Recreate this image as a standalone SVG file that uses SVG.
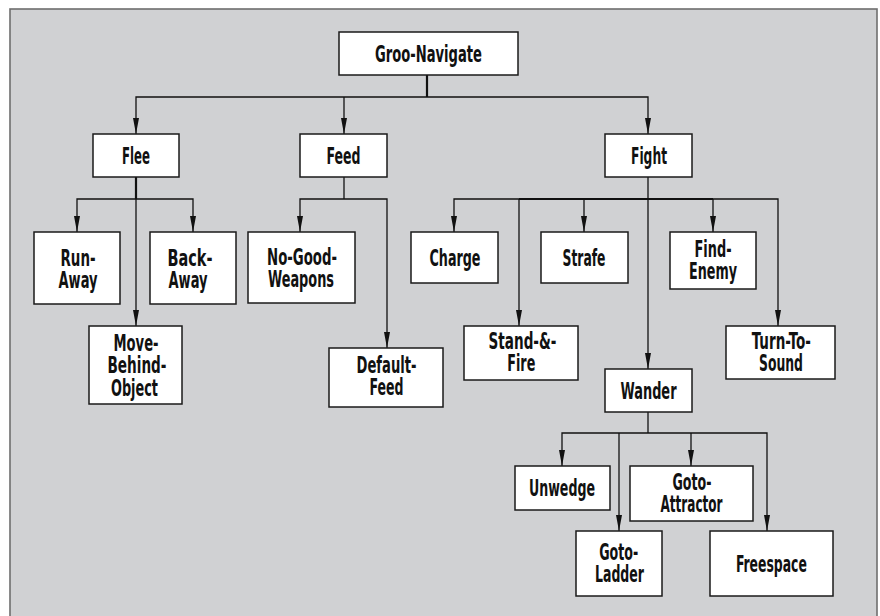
<svg xmlns="http://www.w3.org/2000/svg" width="880" height="616" viewBox="0 0 880 616">
<style>
.bg{fill:#d0d1d3;stroke:#6e6e6e;stroke-width:1.6}
.n rect{fill:#fff;stroke:#1a1a1a;stroke-width:1.5}
.n text{font-family:"DejaVu Sans Condensed","DejaVu Sans",sans-serif;font-size:23px;font-weight:bold;fill:#111;text-anchor:middle}
.c path{fill:none;stroke:#111;stroke-width:1.3;marker-end:url(#ah)}
.c .s{marker-end:none}
.c .t{stroke-width:2.2;marker-end:none}
</style>
<defs>
<marker id="ah" viewBox="0 0 16 6" refX="16" refY="3" markerWidth="16" markerHeight="6" markerUnits="userSpaceOnUse" orient="auto">
<path d="M0,0 L16,3 L0,6 Z" fill="#111"/>
</marker>
</defs>
<rect class="bg" x="10" y="9" width="867" height="620"/>
<g class="c" id="connectors">
<path class="t" d="M427,75 V97"/>
<path d="M427,97 H136 V134"/>
<path d="M344,97 V134"/>
<path d="M427,97 H648 V134"/>
<path class="t" d="M136,177 V199"/>
<path d="M136,199 H77 V232"/>
<path d="M136,199 H193 V232"/>
<path d="M136,199 V326"/>
<path class="s" d="M344,177 V199"/>
<path d="M344,199 H300 V232"/>
<path d="M344,199 H387 V348"/>
<path class="s" d="M648,177 V199"/>
<path class="t" d="M519,199 H713"/>
<path d="M648,199 H454 V232"/>
<path d="M584,199 V232"/>
<path d="M713,199 V232"/>
<path d="M519,199 V326"/>
<path d="M713,199 H778 V326"/>
<path d="M648,199 V369"/>
<path class="s" d="M648,412 V433"/>
<path d="M648,433 H562 V466"/>
<path d="M648,433 H767 V531"/>
<path d="M691,433 V466"/>
<path d="M619,433 V531"/>
</g>
<g class="n" id="groo-navigate"><rect x="339" y="32" width="179" height="43"/><text x="428.5" y="62" textLength="107" lengthAdjust="spacingAndGlyphs">Groo-Navigate</text></g>
<g class="n" id="flee"><rect x="93" y="134" width="86" height="43"/><text x="136" y="164" textLength="28" lengthAdjust="spacingAndGlyphs">Flee</text></g>
<g class="n" id="feed"><rect x="300" y="134" width="87" height="43"/><text x="343.5" y="164" textLength="34" lengthAdjust="spacingAndGlyphs">Feed</text></g>
<g class="n" id="fight"><rect x="605" y="134" width="87" height="43"/><text x="649" y="164" textLength="36" lengthAdjust="spacingAndGlyphs">Fight</text></g>
<g class="n" id="run-away"><rect x="34" y="232" width="86" height="72"/><text x="78" y="266" textLength="35" lengthAdjust="spacingAndGlyphs">Run-</text><text x="78" y="288" textLength="39" lengthAdjust="spacingAndGlyphs">Away</text></g>
<g class="n" id="back-away"><rect x="150" y="232" width="86" height="72"/><text x="190" y="266" textLength="45" lengthAdjust="spacingAndGlyphs">Back-</text><text x="188" y="288" textLength="39" lengthAdjust="spacingAndGlyphs">Away</text></g>
<g class="n" id="move-behind-object"><rect x="89" y="326" width="93" height="78"/><text x="136" y="351" textLength="45" lengthAdjust="spacingAndGlyphs">Move-</text><text x="137" y="373" textLength="59" lengthAdjust="spacingAndGlyphs">Behind-</text><text x="134.5" y="396" textLength="47" lengthAdjust="spacingAndGlyphs">Object</text></g>
<g class="n" id="no-good-weapons"><rect x="248" y="232" width="107" height="71"/><text x="302" y="265" textLength="70" lengthAdjust="spacingAndGlyphs">No-Good-</text><text x="301" y="287" textLength="66" lengthAdjust="spacingAndGlyphs">Weapons</text></g>
<g class="n" id="default-feed"><rect x="329" y="348" width="114" height="59"/><text x="386.5" y="373" textLength="60" lengthAdjust="spacingAndGlyphs">Default-</text><text x="386.5" y="395" textLength="34" lengthAdjust="spacingAndGlyphs">Feed</text></g>
<g class="n" id="charge"><rect x="411" y="232" width="87" height="51"/><text x="455" y="266" textLength="51" lengthAdjust="spacingAndGlyphs">Charge</text></g>
<g class="n" id="strafe"><rect x="541" y="232" width="87" height="51"/><text x="584" y="266" textLength="43" lengthAdjust="spacingAndGlyphs">Strafe</text></g>
<g class="n" id="find-enemy"><rect x="670" y="232" width="86" height="57"/><text x="713" y="257" textLength="37" lengthAdjust="spacingAndGlyphs">Find-</text><text x="713" y="279" textLength="48" lengthAdjust="spacingAndGlyphs">Enemy</text></g>
<g class="n" id="stand-fire"><rect x="464" y="326" width="114" height="54"/><text x="522.5" y="349" textLength="68" lengthAdjust="spacingAndGlyphs">Stand-&amp;-</text><text x="521.3" y="371" textLength="28" lengthAdjust="spacingAndGlyphs">Fire</text></g>
<g class="n" id="turn-to-sound"><rect x="726" y="326" width="109" height="53"/><text x="781.3" y="349" textLength="59" lengthAdjust="spacingAndGlyphs">Turn-To-</text><text x="781" y="371" textLength="44" lengthAdjust="spacingAndGlyphs">Sound</text></g>
<g class="n" id="wander"><rect x="605" y="369" width="87" height="43"/><text x="648.5" y="399" textLength="56" lengthAdjust="spacingAndGlyphs">Wander</text></g>
<g class="n" id="unwedge"><rect x="515" y="466" width="95" height="44"/><text x="562" y="496" textLength="66" lengthAdjust="spacingAndGlyphs">Unwedge</text></g>
<g class="n" id="goto-attractor"><rect x="630" y="466" width="123" height="55"/><text x="692" y="490" textLength="39" lengthAdjust="spacingAndGlyphs">Goto-</text><text x="691.5" y="512" textLength="62" lengthAdjust="spacingAndGlyphs">Attractor</text></g>
<g class="n" id="goto-ladder"><rect x="576" y="531" width="86" height="65"/><text x="618.7" y="560" textLength="39" lengthAdjust="spacingAndGlyphs">Goto-</text><text x="619.5" y="582" textLength="49" lengthAdjust="spacingAndGlyphs">Ladder</text></g>
<g class="n" id="freespace"><rect x="710" y="531" width="123" height="65"/><text x="771.4" y="572" textLength="71" lengthAdjust="spacingAndGlyphs">Freespace</text></g>
</svg>
